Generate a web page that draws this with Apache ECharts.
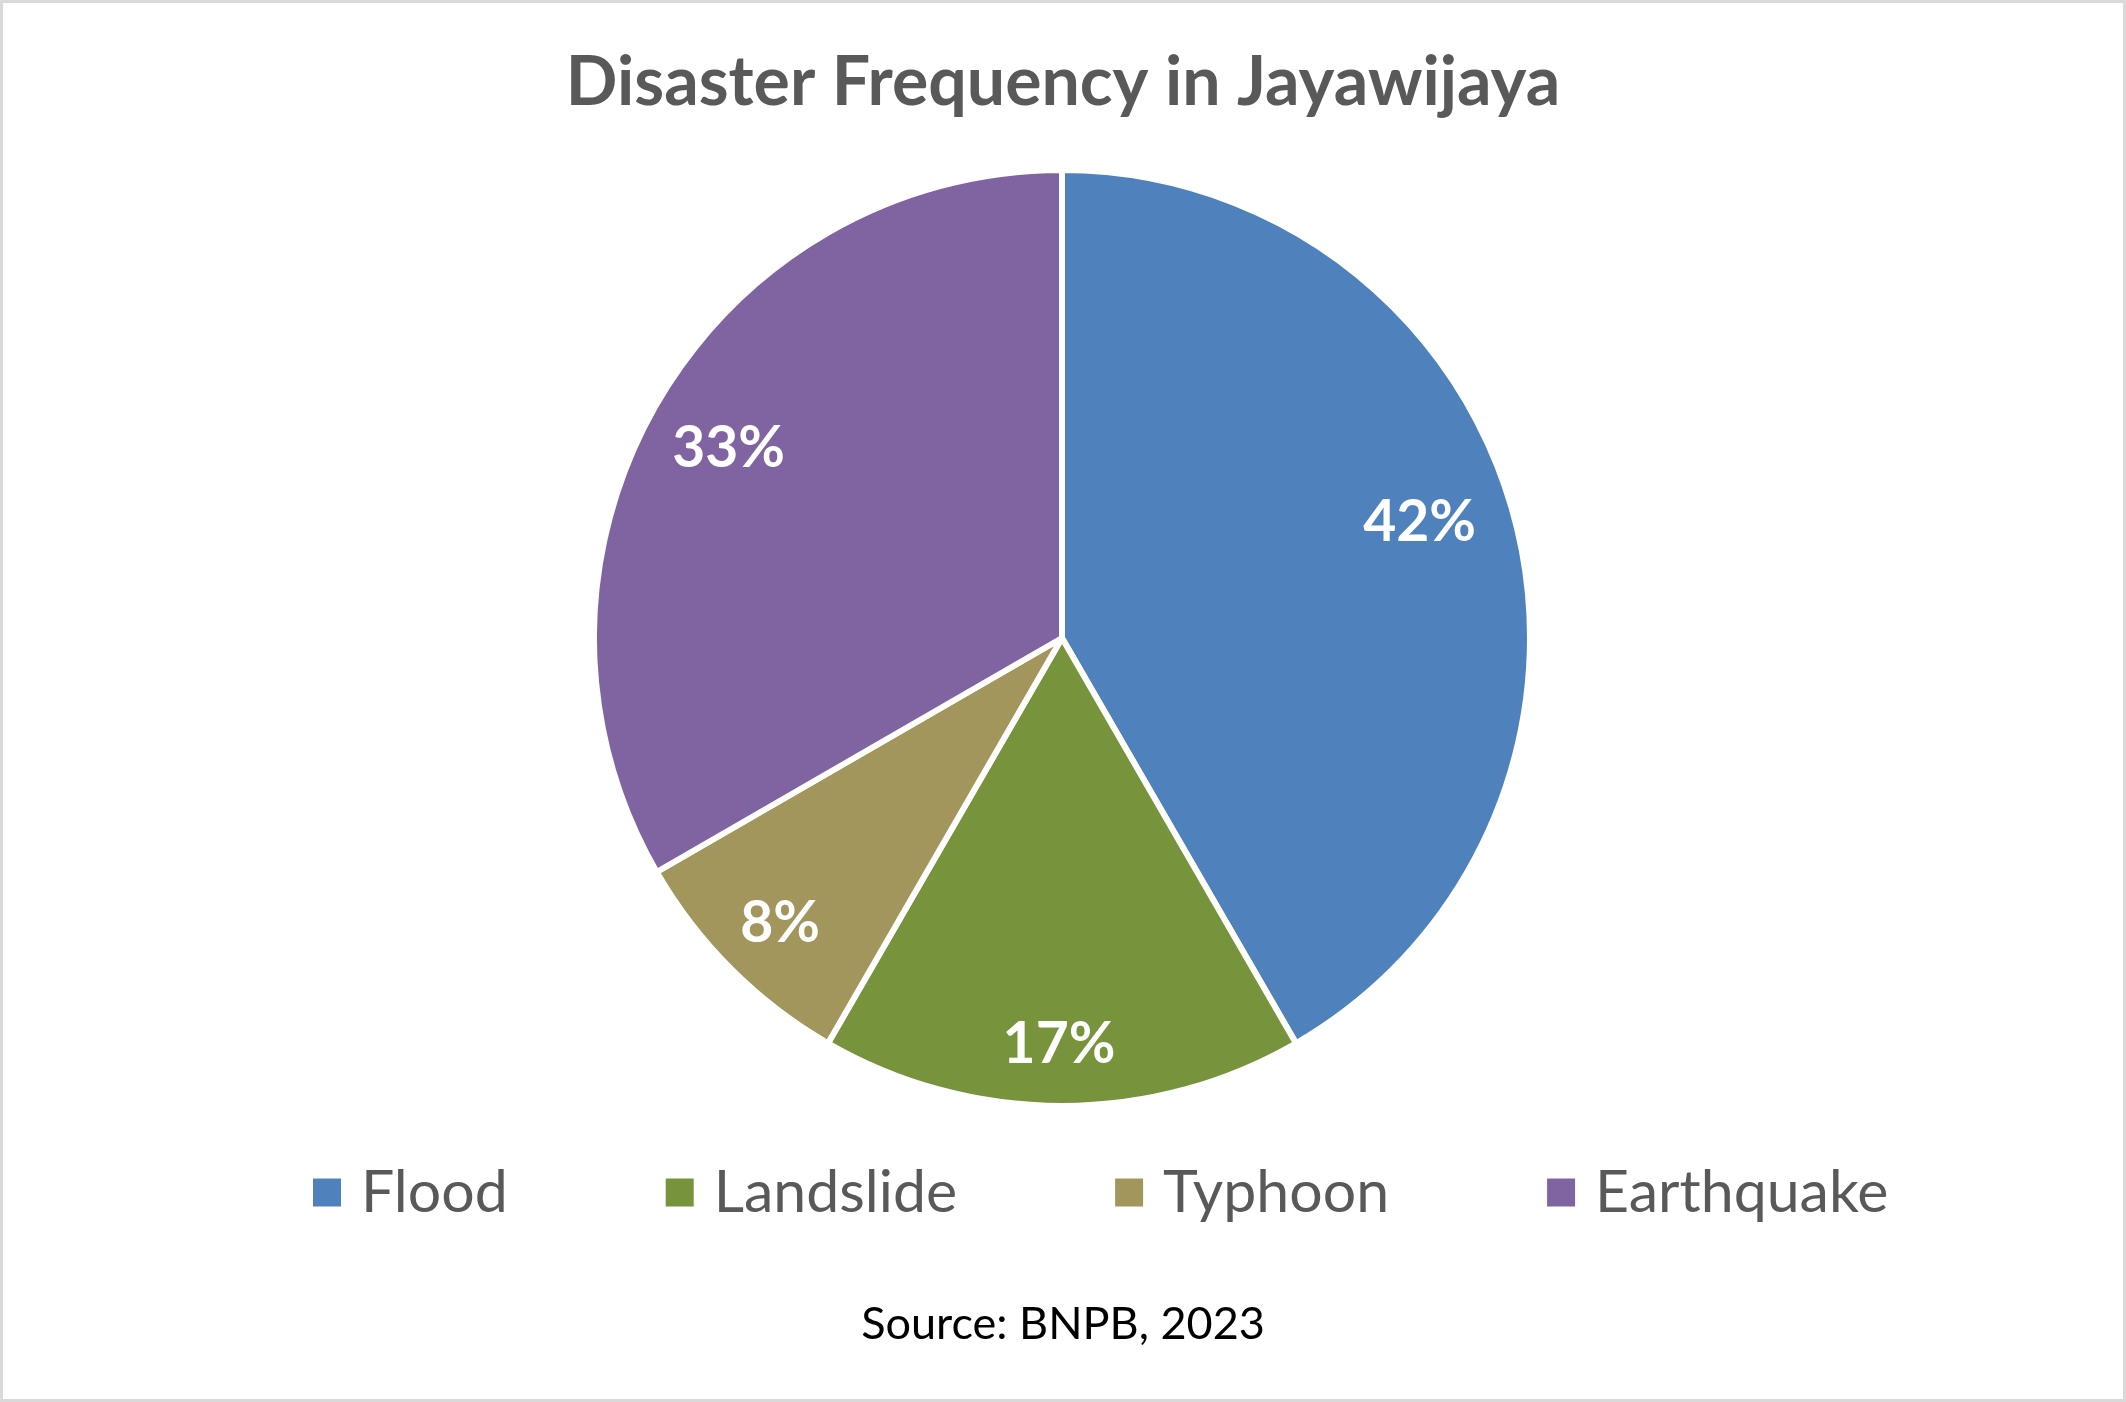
<!DOCTYPE html>
<html>
<head>
<meta charset="utf-8">
<script src="https://cdn.jsdelivr.net/npm/echarts@6/dist/echarts.min.js"></script>
<style>
html,body{margin:0;padding:0;background:#fff;}
#chart{width:2126px;height:1402px;}
</style>
</head>
<body>
<div id="chart"></div>
<script>
// Data (counts: 5/12, 2/12, 1/12, 4/12)
const categories = ['Flood', 'Landslide', 'Typhoon', 'Earthquake'];
const values = [5, 2, 1, 4];
const colors = ['#4F81BD', '#77933C', '#A2965C', '#8064A2'];
const titleText = 'Disaster Frequency in Jayawijaya';
const sourceText = 'Source: BNPB, 2023';
// small per-label nudges (style only) to mimic the "best fit" placement
const labelNudges = [[-22, -14], [-3, 14], [-4, 8], [7, 7]];

const pieData = categories.map((c, i) => ({ name: c, value: values[i], itemStyle: { color: colors[i] } }));
const labelData = categories.map((c, i) => ({ name: c, value: values[i], label: { offset: labelNudges[i] } }));

const chart = echarts.init(document.getElementById('chart'), null, { renderer: 'canvas' });
const FONT = 'Lato, "Open Sans", sans-serif';

chart.setOption({
  backgroundColor: '#ffffff',
  animation: false,
  title: {
    text: titleText,
    left: 'center',
    top: 44,
    textStyle: { fontFamily: FONT, fontWeight: 'bold', fontSize: 68, color: '#595959' }
  },
  legend: {
    data: categories,
    left: 306,
    top: 1158,
    itemWidth: 30,
    itemHeight: 30,
    itemGap: 156,
    icon: 'rect',
    textStyle: { fontFamily: FONT, fontSize: 59, color: '#595959', padding: [0, 0, 0, 14] }
  },
  graphic: [
    {
      type: 'rect',
      shape: { x: 1.5, y: 1.5, width: 2123, height: 1399 },
      style: { fill: 'none', stroke: '#D9D9D9', lineWidth: 3 },
      silent: true
    },
    {
      type: 'text',
      left: 'center',
      top: 1302,
      style: { text: sourceText, fontFamily: FONT, fontSize: 45, fill: '#000000' },
      silent: true
    }
  ],
  series: [
    {
      type: 'pie',
      center: [1062, 638],
      radius: [0, 468],
      startAngle: 90,
      clockwise: true,
      silent: true,
      label: { show: false },
      labelLine: { show: false },
      itemStyle: { borderColor: '#ffffff', borderWidth: 6 },
      data: pieData
    },
    {
      type: 'pie',
      center: [1062, 638],
      radius: [330, 450],
      startAngle: 90,
      clockwise: true,
      silent: true,
      itemStyle: { color: 'transparent', borderWidth: 0 },
      label: {
        show: true,
        position: 'inside',
        formatter: p => Math.round(p.percent) + '%',
        fontFamily: FONT,
        fontWeight: 'bold',
        fontSize: 57,
        color: '#ffffff'
      },
      labelLine: { show: false },
      data: labelData
    }
  ]
});
</script>
</body>
</html>
